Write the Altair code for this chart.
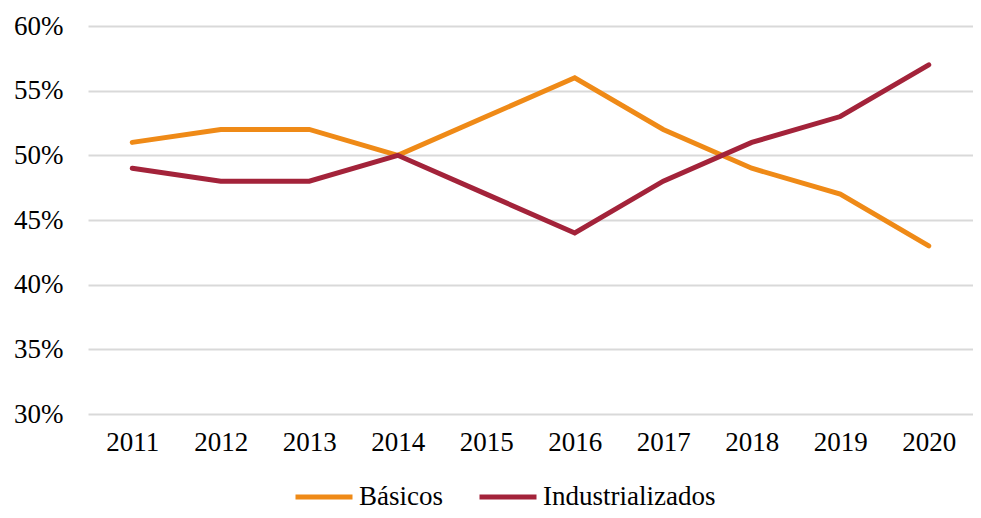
import altair as alt
import pandas as pd

years = ["2011", "2012", "2013", "2014", "2015", "2016", "2017", "2018", "2019", "2020"]
basicos = [0.51, 0.52, 0.52, 0.50, 0.53, 0.56, 0.52, 0.49, 0.47, 0.43]
industrializados = [0.49, 0.48, 0.48, 0.50, 0.47, 0.44, 0.48, 0.51, 0.53, 0.57]
series_names = ["Básicos", "Industrializados"]
series_colors = ["#EF8A17", "#A3233A"]

rows = []
for y, b, i in zip(years, basicos, industrializados):
    rows.append({"Año": y, "Serie": series_names[0], "Valor": b})
    rows.append({"Año": y, "Serie": series_names[1], "Valor": i})
df = pd.DataFrame(rows)

FONT = "Liberation Serif"

chart = alt.Chart(df).mark_line(strokeWidth=5, strokeCap="round").encode(
    x=alt.X("Año:N", sort=years, title=None,
            scale=alt.Scale(paddingInner=0, paddingOuter=0.5),
            axis=alt.Axis(labelAngle=0, ticks=False, domain=False, grid=False,
                          labelFont=FONT, labelFontSize=27, labelColor="#000",
                          labelPadding=15)),
    y=alt.Y("Valor:Q", title=None,
            scale=alt.Scale(domain=[0.30, 0.60], nice=False, zero=False),
            axis=alt.Axis(values=[0.30, 0.35, 0.40, 0.45, 0.50, 0.55, 0.60],
                          format=".0%", ticks=False, domain=False,
                          gridColor="#D9D9D9", gridWidth=2,
                          labelFont=FONT, labelFontSize=27, labelColor="#000",
                          labelPadding=25)),
    color=alt.Color("Serie:N", title=None,
                    scale=alt.Scale(domain=series_names, range=series_colors),
                    legend=alt.Legend(orient="none", legendX=205, legendY=440,
                                      direction="horizontal",
                                      symbolType="stroke", symbolSize=3249,
                                      symbolStrokeWidth=5,
                                      labelFont=FONT, labelFontSize=27,
                                      labelColor="#000", labelOffset=4,
                                      labelLimit=0, labelBaseline="middle",
                                      columnPadding=26)),
    order=alt.Order("Serie:N"),
).properties(
    width=885,
    height=388,
    autosize=alt.AutoSizeParams(type="none"),
    padding={"left": 80, "top": 18, "right": 0, "bottom": 96},
).configure_view(stroke=None)

chart.save("out.html", embed_options={"renderer": "svg", "actions": False})
